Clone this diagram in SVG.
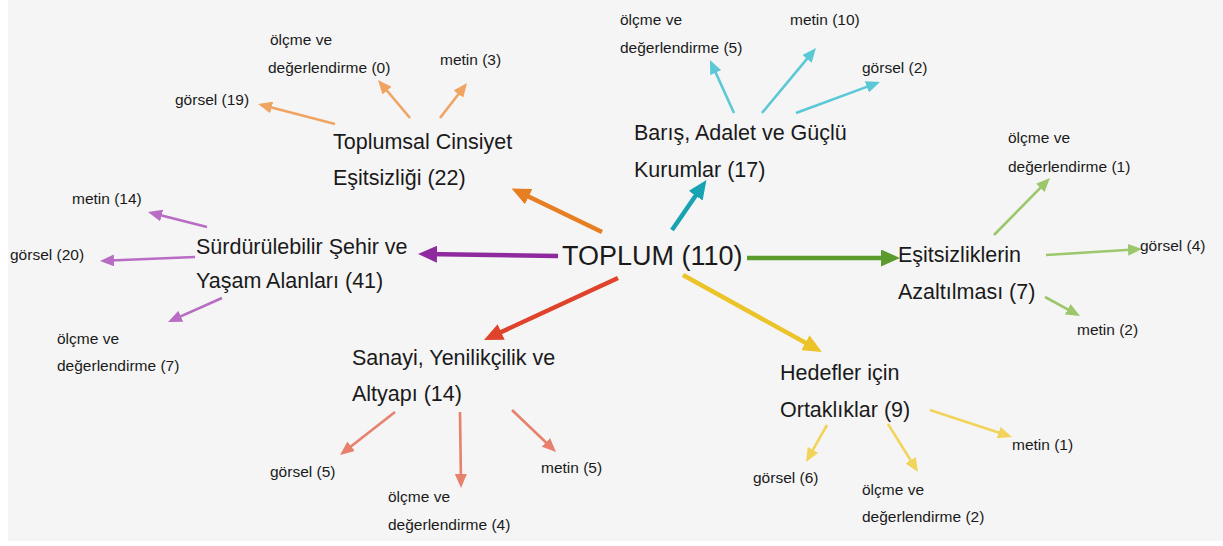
<svg xmlns="http://www.w3.org/2000/svg" width="1223" height="546" viewBox="0 0 1223 546">
<style>
text{font-family:"Liberation Sans","DejaVu Sans",sans-serif;fill:#1a1a1a}
.m{font-size:21.5px}
.s{font-size:15.5px}
.c{font-size:27px}
.main{stroke-width:4.5;fill:none}
.sub{stroke-width:2.6;fill:none}
</style>
<defs>
<marker id="hOr" markerUnits="userSpaceOnUse" markerWidth="19" markerHeight="17" refX="13" refY="8.5" orient="auto"><path d="M0,0L19,8.5L0,17z" fill="#e67e22"/></marker>
<marker id="hTe" markerUnits="userSpaceOnUse" markerWidth="19" markerHeight="17" refX="13" refY="8.5" orient="auto"><path d="M0,0L19,8.5L0,17z" fill="#17a3b1"/></marker>
<marker id="hPu" markerUnits="userSpaceOnUse" markerWidth="19" markerHeight="17" refX="13" refY="8.5" orient="auto"><path d="M0,0L19,8.5L0,17z" fill="#8e2a9e"/></marker>
<marker id="hGr" markerUnits="userSpaceOnUse" markerWidth="19" markerHeight="17" refX="13" refY="8.5" orient="auto"><path d="M0,0L19,8.5L0,17z" fill="#5b9a2c"/></marker>
<marker id="hRe" markerUnits="userSpaceOnUse" markerWidth="19" markerHeight="17" refX="13" refY="8.5" orient="auto"><path d="M0,0L19,8.5L0,17z" fill="#e0432b"/></marker>
<marker id="hYe" markerUnits="userSpaceOnUse" markerWidth="19" markerHeight="17" refX="13" refY="8.5" orient="auto"><path d="M0,0L19,8.5L0,17z" fill="#ecc42a"/></marker>
<marker id="sOr" markerUnits="userSpaceOnUse" markerWidth="14" markerHeight="12" refX="10" refY="6" orient="auto"><path d="M0,0L14,6L0,12z" fill="#f0a462"/></marker>
<marker id="sCy" markerUnits="userSpaceOnUse" markerWidth="14" markerHeight="12" refX="10" refY="6" orient="auto"><path d="M0,0L14,6L0,12z" fill="#5bc8d6"/></marker>
<marker id="sPu" markerUnits="userSpaceOnUse" markerWidth="14" markerHeight="12" refX="10" refY="6" orient="auto"><path d="M0,0L14,6L0,12z" fill="#b86cc4"/></marker>
<marker id="sGr" markerUnits="userSpaceOnUse" markerWidth="14" markerHeight="12" refX="10" refY="6" orient="auto"><path d="M0,0L14,6L0,12z" fill="#9cc76c"/></marker>
<marker id="sRe" markerUnits="userSpaceOnUse" markerWidth="14" markerHeight="12" refX="10" refY="6" orient="auto"><path d="M0,0L14,6L0,12z" fill="#e8806e"/></marker>
<marker id="sYe" markerUnits="userSpaceOnUse" markerWidth="14" markerHeight="12" refX="10" refY="6" orient="auto"><path d="M0,0L14,6L0,12z" fill="#f2d45c"/></marker>
</defs>
<rect x="0" y="0" width="1223" height="546" fill="#ffffff"/>
<rect x="8" y="0" width="1215" height="541" fill="#f5f5f5"/>

<g id="connectors">
<path class="main" stroke="#e67e22" marker-end="url(#hOr)" d="M602,232L517,191"/>
<path class="main" stroke="#17a3b1" marker-end="url(#hTe)" d="M672,230L703,185"/>
<path class="main" stroke="#8e2a9e" marker-end="url(#hPu)" d="M558,256L424,254"/>
<path class="main" stroke="#5b9a2c" marker-end="url(#hGr)" d="M747,258L894,258"/>
<path class="main" stroke="#e0432b" marker-end="url(#hRe)" d="M618,278L489.4,337.5"/>
<path class="main" stroke="#ecc42a" marker-end="url(#hYe)" d="M683,275L816.7,349"/>

<path class="sub" stroke="#f0a462" marker-end="url(#sOr)" d="M335,124L262,105"/>
<path class="sub" stroke="#f0a462" marker-end="url(#sOr)" d="M410,118L380.6,83"/>
<path class="sub" stroke="#f0a462" marker-end="url(#sOr)" d="M440,118L464.6,86.2"/>

<path class="sub" stroke="#5bc8d6" marker-end="url(#sCy)" d="M734,113L711.6,63.6"/>
<path class="sub" stroke="#5bc8d6" marker-end="url(#sCy)" d="M762,113L813.4,51.1"/>
<path class="sub" stroke="#5bc8d6" marker-end="url(#sCy)" d="M796,113L876.2,83.4"/>

<path class="sub" stroke="#b86cc4" marker-end="url(#sPu)" d="M207,227L151.9,213"/>
<path class="sub" stroke="#b86cc4" marker-end="url(#sPu)" d="M195,257L104,260.8"/>
<path class="sub" stroke="#b86cc4" marker-end="url(#sPu)" d="M222,298L171.7,320.4"/>

<path class="sub" stroke="#9cc76c" marker-end="url(#sGr)" d="M994,235L1047.2,180.9"/>
<path class="sub" stroke="#9cc76c" marker-end="url(#sGr)" d="M1046,255L1138,249.2"/>
<path class="sub" stroke="#9cc76c" marker-end="url(#sGr)" d="M1045,297L1076.5,314.1"/>

<path class="sub" stroke="#e8806e" marker-end="url(#sRe)" d="M395,412L343.2,452.5"/>
<path class="sub" stroke="#e8806e" marker-end="url(#sRe)" d="M460,412L461,484"/>
<path class="sub" stroke="#e8806e" marker-end="url(#sRe)" d="M512,410L553.1,449.2"/>

<path class="sub" stroke="#f2d45c" marker-end="url(#sYe)" d="M827,425L808,458.5"/>
<path class="sub" stroke="#f2d45c" marker-end="url(#sYe)" d="M888,424L915.9,468.6"/>
<path class="sub" stroke="#f2d45c" marker-end="url(#sYe)" d="M930,410L1008.2,435.7"/>
</g>

<g id="toplum"><text class="c" x="562" y="265">TOPLUM (110)</text></g>

<g id="toplumsal"><text class="m" x="333" y="149">Toplumsal Cinsiyet</text><text class="m" x="333" y="185">Eşitsizliği (22)</text></g>
<g id="toplumsal-olcme"><text class="s" x="270" y="45">ölçme ve</text><text class="s" x="268" y="73">değerlendirme (0)</text></g>
<g id="toplumsal-metin"><text class="s" x="440" y="65">metin (3)</text></g>
<g id="toplumsal-gorsel"><text class="s" x="175" y="105">görsel (19)</text></g>

<g id="baris"><text class="m" x="634" y="140">Barış, Adalet ve Güçlü</text><text class="m" x="634" y="177">Kurumlar (17)</text></g>
<g id="baris-olcme"><text class="s" x="620" y="25">ölçme ve</text><text class="s" x="620" y="53">değerlendirme (5)</text></g>
<g id="baris-metin"><text class="s" x="790" y="25">metin (10)</text></g>
<g id="baris-gorsel"><text class="s" x="862" y="73">görsel (2)</text></g>

<g id="surdurulebilir"><text class="m" x="196" y="254">Sürdürülebilir Şehir ve</text><text class="m" x="196" y="288">Yaşam Alanları (41)</text></g>
<g id="surdurulebilir-metin"><text class="s" x="72" y="204">metin (14)</text></g>
<g id="surdurulebilir-gorsel"><text class="s" x="10" y="260">görsel (20)</text></g>
<g id="surdurulebilir-olcme"><text class="s" x="57" y="344">ölçme ve</text><text class="s" x="57" y="371">değerlendirme (7)</text></g>

<g id="esitsizlik"><text class="m" x="898" y="262">Eşitsizliklerin</text><text class="m" x="898" y="299">Azaltılması (7)</text></g>
<g id="esitsizlik-olcme"><text class="s" x="1008" y="143">ölçme ve</text><text class="s" x="1008" y="172">değerlendirme (1)</text></g>
<g id="esitsizlik-gorsel"><text class="s" x="1140" y="251">görsel (4)</text></g>
<g id="esitsizlik-metin"><text class="s" x="1077" y="335">metin (2)</text></g>

<g id="sanayi"><text class="m" x="352" y="365">Sanayi, Yenilikçilik ve</text><text class="m" x="352" y="401">Altyapı (14)</text></g>
<g id="sanayi-gorsel"><text class="s" x="270" y="477">görsel (5)</text></g>
<g id="sanayi-olcme"><text class="s" x="388" y="502">ölçme ve</text><text class="s" x="388" y="530">değerlendirme (4)</text></g>
<g id="sanayi-metin"><text class="s" x="541" y="473">metin (5)</text></g>

<g id="hedefler"><text class="m" x="780" y="380">Hedefler için</text><text class="m" x="780" y="417">Ortaklıklar (9)</text></g>
<g id="hedefler-gorsel"><text class="s" x="753" y="483">görsel (6)</text></g>
<g id="hedefler-olcme"><text class="s" x="862" y="495">ölçme ve</text><text class="s" x="862" y="522">değerlendirme (2)</text></g>
<g id="hedefler-metin"><text class="s" x="1012" y="450">metin (1)</text></g>
</svg>
